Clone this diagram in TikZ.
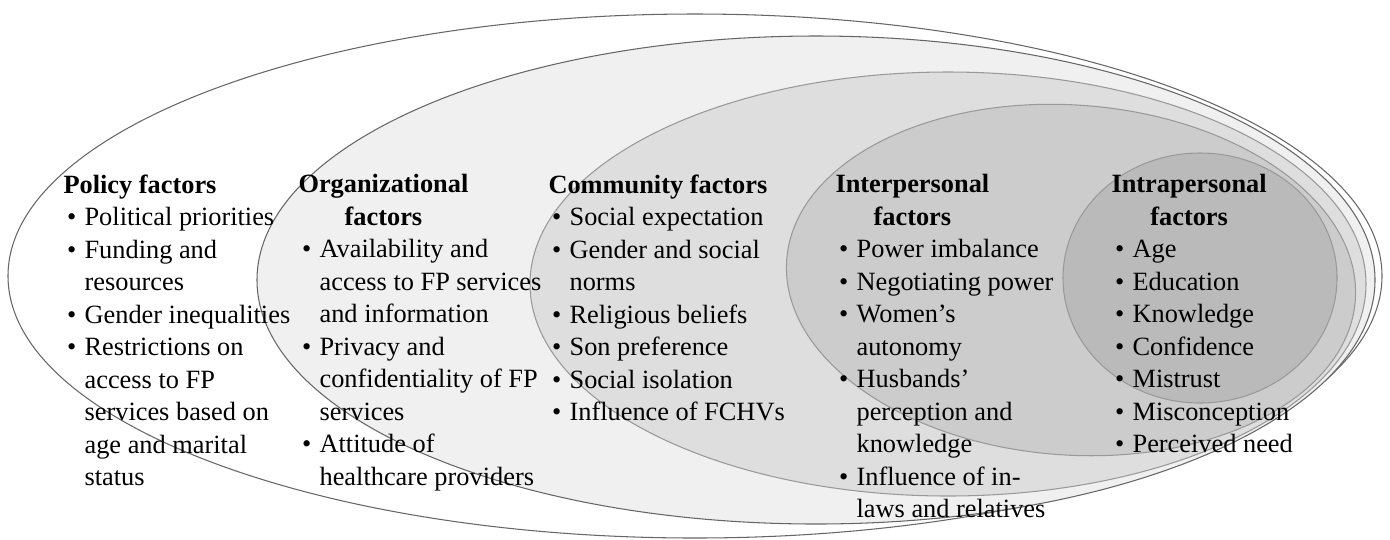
\documentclass[tikz,border=0pt]{standalone}
\usepackage{fontspec}
\setmainfont{Liberation Serif}
\usepackage{calc}

\newcommand{\puce}{\makebox[12pt][l]{\hspace{2pt}\textbullet}}
\newcommand{\suite}{\hspace*{12pt}}
\newcommand{\titre}[2]{\textbf{#1}\\\makebox[\widthof{\textbf{#1}}]{\textbf{#2}}}

\begin{document}
\begin{tikzpicture}[x=0.02cm, y=-0.02cm, line width=0.6pt,
  facteurs/.style={anchor=north west, inner sep=0pt, align=left,
    font=\fontsize{15}{18.5}\selectfont}]

\useasboundingbox (0,0) rectangle (1390,539);

% Ellipses
\filldraw[fill=white, draw=black!60] (695,276) ellipse (687 and 262);
\filldraw[fill=black!6, draw=black!60] (816,280) ellipse (559 and 244);
\filldraw[fill=black!13, draw=black!40] (948,284) ellipse (418 and 212);
\filldraw[fill=black!20, draw=black!40, shift={(1071,280)}, rotate=-4]
  (0,0) ellipse (285 and 175);
\filldraw[fill=black!27, draw=black!40] (1200,278) ellipse (137 and 125);

% Politique
\node[facteurs] (policy) at (63,174) {\textbf{Policy factors}\\
  \puce Political priorities\\
  \puce Funding and\\
  \suite resources\\
  \puce Gender inequalities\\
  \puce Restrictions on\\
  \suite access to FP\\
  \suite services based on\\
  \suite age and marital\\
  \suite status};

% Organisation
\node[facteurs] (organizational) at (298,174) {\titre{Organizational}{factors}\\
  \puce Availability and\\
  \suite access to FP services\\
  \suite and information\\
  \puce Privacy and\\
  \suite confidentiality of FP\\
  \suite services\\
  \puce Attitude of\\
  \suite healthcare providers};

% Communauté
\node[facteurs] (community) at (548,174) {\textbf{Community factors}\\
  \puce Social expectation\\
  \puce Gender and social\\
  \suite norms\\
  \puce Religious beliefs\\
  \puce Son preference\\
  \puce Social isolation\\
  \puce Influence of FCHVs};

% Interpersonnel
\node[facteurs] (interpersonal) at (835,174) {\titre{Interpersonal}{factors}\\
  \puce Power imbalance\\
  \puce Negotiating power\\
  \puce Women’s\\
  \suite autonomy\\
  \puce Husbands’\\
  \suite perception and\\
  \suite knowledge\\
  \puce Influence of in-\\
  \suite laws and relatives};

% Intrapersonnel
\node[facteurs] (intrapersonal) at (1111,174) {\titre{Intrapersonal}{factors}\\
  \puce Age\\
  \puce Education\\
  \puce Knowledge\\
  \puce Confidence\\
  \puce Mistrust\\
  \puce Misconception\\
  \puce Perceived need};

\end{tikzpicture}
\end{document}
